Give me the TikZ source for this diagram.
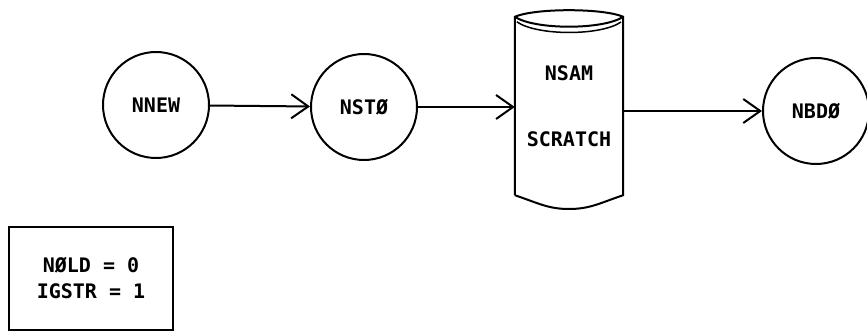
\documentclass[tikz,border=0pt]{standalone}
\usepackage{fontspec}
\setmonofont{DejaVu Sans Mono}
\usetikzlibrary{positioning,arrows.meta}
\tikzset{
    flownode/.style={circle, draw, line width=2pt, minimum size=106pt, inner sep=0pt},
    flowline/.style={line width=2pt, -{Straight Barb[length=17pt,width=24pt,line width=2pt]}},
    lbl/.style={font=\ttfamily\bfseries\fontsize{20}{22}\selectfont}
}
\begin{document}
\begin{tikzpicture}[x=1pt, y=-1pt]
    \useasboundingbox (0,0) rectangle (867,331);

    % --- nodes of the chain ---
    \node[flownode, lbl] (nnew) at (156,105) {NNEW};
    \node[flownode, lbl] (nsto) at (364,107) {NST\O};
    \node[minimum width=108pt, minimum height=178pt, inner sep=0pt,
          lbl, align=center] (nsam) at (569,106) {NSAM\\[44pt]SCRATCH};
    \node[flownode, lbl] (nbdo) at (816,111) {NBD\O};

    % --- scratch file drum ---
    \draw[line width=2pt] (nsam.south west) -- (nsam.north west)
        .. controls (535,8) and (603,8) .. (nsam.north east) -- (nsam.south east)
        .. controls (600,203) and (590,209) .. (569,209)
        .. controls (548,209) and (538,203) .. (nsam.south west);
    \draw[line width=2pt] (nsam.north west) .. controls (535,30) and (603,30) .. (nsam.north east);
    \draw[line width=1.5pt] (nsam.north west) ++(2,5) .. controls (537,36) and (601,36) .. (621,22);

    % --- connectors ---
    \draw[flowline] (nnew) -- (nsto);
    \draw[flowline] (nsto.east) -- (nsto.east -| nsam.west);
    \draw[flowline] (nsam.east |- nbdo.west) -- (nbdo.west);

    % --- settings box ---
    \node[draw, line width=2pt, minimum width=164pt, minimum height=103pt,
          lbl, align=center] (init) at (91,278.5) {N\O LD = 0\\[4pt]IGSTR = 1};
\end{tikzpicture}
\end{document}
